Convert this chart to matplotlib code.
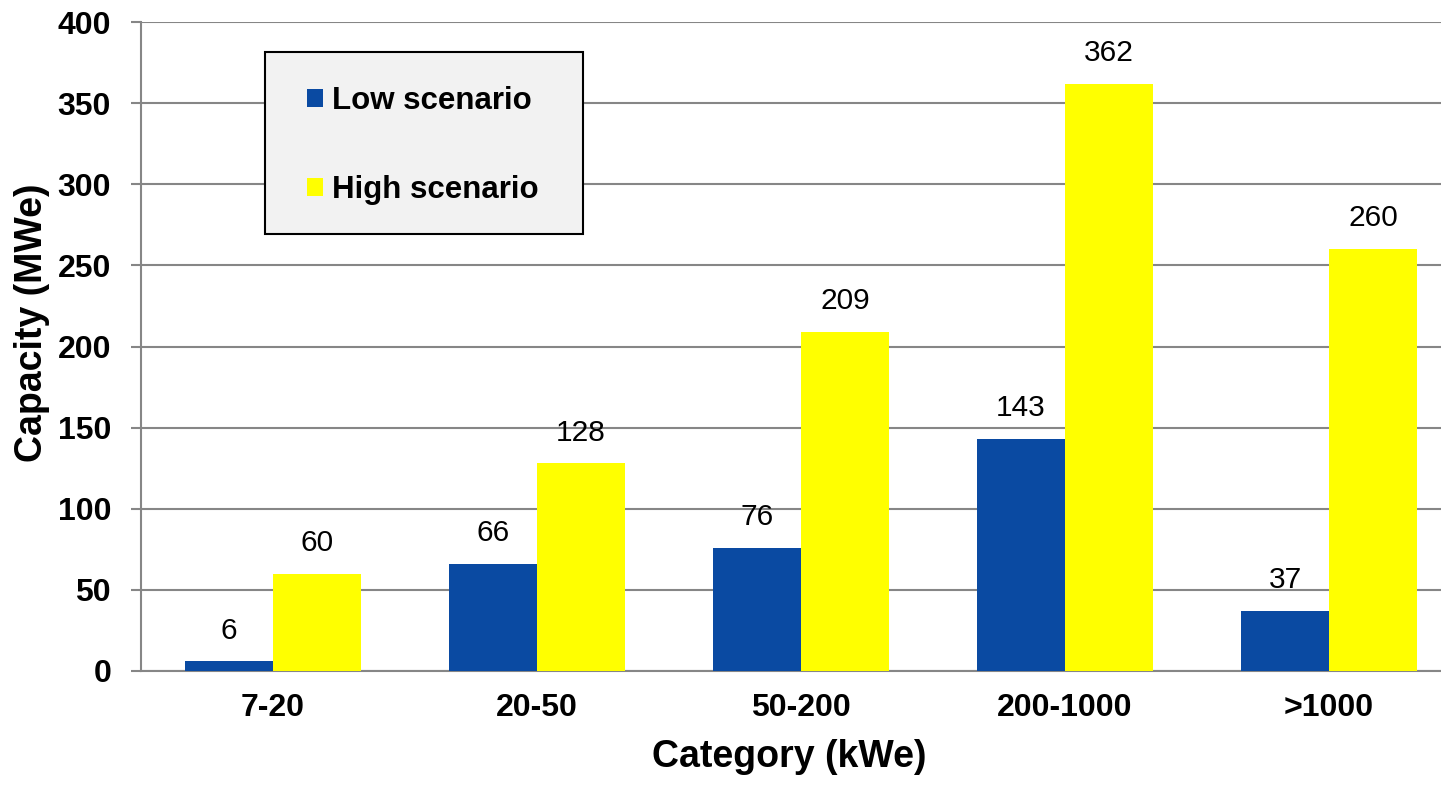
import matplotlib
matplotlib.use("Agg")
import matplotlib.pyplot as plt
from matplotlib.patches import Rectangle
import numpy as np

matplotlib.rcParams["font.family"] = ["Liberation Sans", "DejaVu Sans"]

# data
categories = ["7-20", "20-50", "50-200", "200-1000", ">1000"]
low_scenario = [6, 66, 76, 143, 37]
high_scenario = [60, 128, 209, 362, 260]
y_ticks = [0, 50, 100, 150, 200, 250, 300, 350, 400]

BLUE = "#0A4AA2"
YELLOW = "#FFFF00"
GRID = "#868686"

W, H = 1441, 786
fig = plt.figure(figsize=(W / 100, H / 100), dpi=100)
# axes runs slightly past the right edge of the picture, as in the original
ax = fig.add_axes([141 / W, 115 / H, 1320 / W, 649 / H])

x = np.arange(len(categories))
bw = 1 / 3
b_low = ax.bar(x - bw / 2, low_scenario, bw, color=BLUE, label="Low scenario", zorder=3)
b_high = ax.bar(x + bw / 2, high_scenario, bw, color=YELLOW, label="High scenario", zorder=3)

for bars in (b_low, b_high):
    ax.bar_label(bars, padding=12, fontsize=21.5, color="black")

ax.set_xlim(-0.5, len(categories) - 0.5)
ax.set_ylim(0, 400)
ax.set_yticks(y_ticks)
ax.set_xticks(x)
ax.set_xticklabels(categories)

ax.grid(True, axis="y", color=GRID, linewidth=1.5, zorder=0)
ax.set_axisbelow(True)
for side in ("top", "right"):
    ax.spines[side].set_visible(False)
for side in ("left", "bottom"):
    ax.spines[side].set_color(GRID)
    ax.spines[side].set_linewidth(1.5)

ax.tick_params(axis="y", length=7.5, width=1.5, color=GRID, pad=14,
               labelsize=23)
ax.tick_params(axis="x", length=0, pad=16, labelsize=23)
for lab in ax.get_xticklabels() + ax.get_yticklabels():
    lab.set_fontweight("bold")

ax.set_xlabel("Category (kWe)", fontsize=27, fontweight="bold")
ax.set_ylabel("Capacity (MWe)", fontsize=27, fontweight="bold")
ax.xaxis.set_label_coords((789 - 141) / 1320, (671 - 739) / 649)
ax.yaxis.set_label_coords((50 - 141) / 1320, (671 - 323) / 649)

# legend box: grey panel behind a frameless legend
ax.add_patch(Rectangle((265 / W, 1 - 234 / H), 318 / W, 182 / H,
                       transform=fig.transFigure, facecolor="#F2F2F2",
                       edgecolor="black", linewidth=1.5, zorder=4))
leg = ax.legend(loc="upper left", bbox_to_anchor=(307 / W, 1 - 86 / H),
                bbox_transform=fig.transFigure, borderaxespad=0,
                prop={"size": 22.5, "weight": "bold"},
                handlelength=0.5, handleheight=0.5, handletextpad=0.3,
                labelspacing=1.88, borderpad=0, frameon=False)
leg.set_zorder(5)

fig.savefig("out.png", dpi=100)
